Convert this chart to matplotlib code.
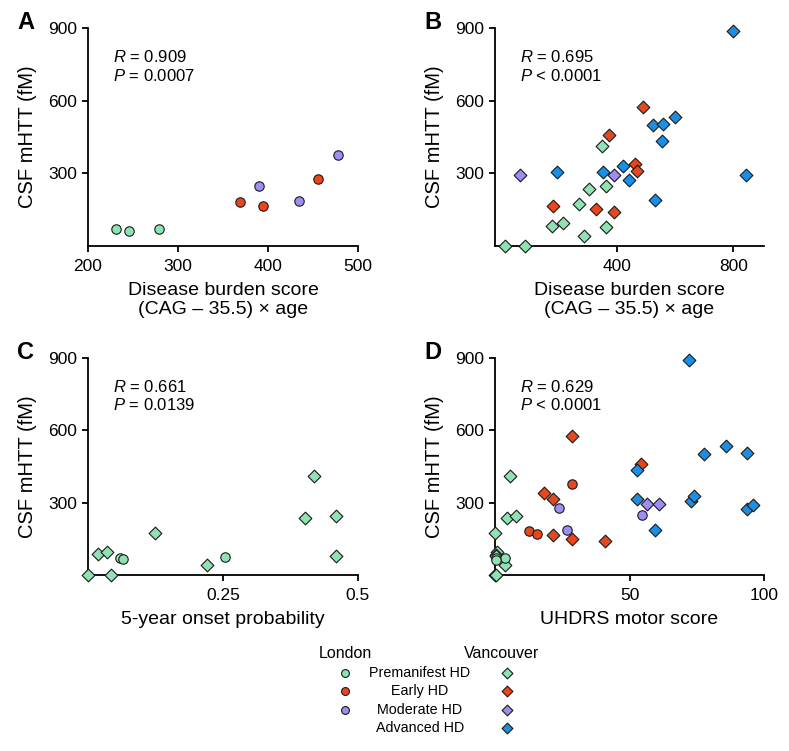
import matplotlib
matplotlib.use("Agg")
import matplotlib.pyplot as plt

plt.rcParams["font.family"] = ["Liberation Sans", "DejaVu Sans"]
plt.rcParams["mathtext.fontset"] = "custom"
plt.rcParams["mathtext.it"] = "Liberation Sans:italic"
plt.rcParams["mathtext.rm"] = "Liberation Sans"

COLORS = {
    "pre": "#8fe3b2",
    "early": "#e8461c",
    "mod": "#9d8ef0",
    "adv": "#1b8fe4",
}
STAGE_LABELS = ["Premanifest HD", "Early HD", "Moderate HD", "Advanced HD"]

# panel A: London, disease burden score
a_pre_x = [231.5, 246, 279]
a_pre_y = [69, 62, 72]
a_early_x = [369, 394, 455.5]
a_early_y = [181, 166, 276]
a_mod_x = [390, 434, 478]
a_mod_y = [246, 184, 377]

# panel B: Vancouver, disease burden score
b_pre_x = [17, 86, 179, 216, 288, 270, 304, 351, 362, 362]
b_pre_y = [0, 0, 84, 94, 40, 174, 235, 412, 246, 77]
b_early_x = [182, 328, 390, 375, 463, 470, 490]
b_early_y = [164, 151, 141, 460, 340, 311, 575]
b_mod_x = [67, 390]
b_mod_y = [293, 293]
b_adv_x = [194, 354, 423, 442, 523, 559, 599, 554, 531, 800, 842]
b_adv_y = [304, 304, 329, 272, 499, 503, 534, 435, 188, 886, 292]

# panel C: premanifest, 5-year onset probability
c_lon_x = [0.059, 0.065, 0.253]
c_lon_y = [72, 65, 74]
c_van_x = [0.0, 0.019, 0.035, 0.042, 0.124, 0.220, 0.402, 0.418, 0.459, 0.459]
c_van_y = [0, 89, 96, 0, 175, 40, 236, 412, 244, 79]

# panel D: UHDRS motor score
d_pre_lon_x = [0.2, 3.8, 0.5]
d_pre_lon_y = [70, 72, 62]
d_early_lon_x = [12.7, 15.6, 28.5]
d_early_lon_y = [181, 168, 379]
d_mod_lon_x = [23.7, 26.7, 54.8]
d_mod_lon_y = [278, 185, 249]
d_pre_van_x = [0, 0.9, 0.2, 3.8, 0, 0.4, 5.7, 4.5, 7.7, 0.5]
d_pre_van_y = [176, 96, 84, 42, 0, 0, 411, 236, 246, 77]
d_early_van_x = [18.2, 21.5, 21.5, 28.5, 28.5, 40.8, 54.1]
d_early_van_y = [340, 314, 165, 576, 151, 142, 462]
d_mod_van_x = [56.6, 60.9]
d_mod_van_y = [294, 294]
d_adv_van_x = [72, 52.7, 52.7, 59.6, 73, 73.8, 77.7, 86, 93.8, 93.8, 96]
d_adv_van_y = [890, 314, 435, 187, 306, 329, 500, 537, 507, 272, 292]

stats = {
    "A": ("0.909", "=", "0.0007"),
    "B": ("0.695", "<", "0.0001"),
    "C": ("0.661", "=", "0.0139"),
    "D": ("0.629", "<", "0.0001"),
}

W, H = 789, 751
fig = plt.figure(figsize=(W / 100, H / 100), dpi=100)


def px_axes(left, top, right, bottom):
    return fig.add_axes([left / W, 1 - bottom / H, (right - left) / W, (bottom - top) / H])


def circles(ax, x, y, stage):
    ax.scatter(x, y, s=46, marker="o", color=COLORS[stage], edgecolor="#1a1a1a",
               linewidth=0.8, clip_on=False, zorder=3)


def diamonds(ax, x, y, stage):
    ax.scatter(x, y, s=42, marker="D", color=COLORS[stage], edgecolor="#1a1a1a",
               linewidth=0.8, clip_on=False, zorder=3)


def style(ax, letter, xlim, xticks, xticklabels, xlabel):
    ax.set_xlim(*xlim)
    ax.set_ylim(0, 900)
    ax.set_xticks(xticks)
    ax.set_xticklabels(xticklabels)
    ax.set_yticks([300, 600, 900])
    for s in ["top", "right"]:
        ax.spines[s].set_visible(False)
    for s in ["left", "bottom"]:
        ax.spines[s].set_linewidth(1.3)
    ax.tick_params(length=4.5, width=1.3, labelsize=12.5, pad=3.5)
    ax.tick_params(axis="x", pad=4.5)
    ax.set_ylabel("CSF mHTT (fM)", fontsize=14.5, labelpad=8)
    ax.set_xlabel(xlabel, fontsize=14, labelpad=6, linespacing=1.2)
    r, op, p = stats[letter]
    ax.text(0.093, 0.867, f"$R$ = {r}", transform=ax.transAxes, fontsize=12, va="center")
    ax.text(0.093, 0.782, f"$P$ {op} {p}", transform=ax.transAxes, fontsize=12, va="center")
    ax.text(-0.263, 1.025, letter, transform=ax.transAxes, fontsize=17, fontweight="bold",
            va="center", ha="left")


burden_label = "Disease burden score\n(CAG – 35.5) × age"

ax = px_axes(88, 28, 358, 246)
circles(ax, a_pre_x, a_pre_y, "pre")
circles(ax, a_early_x, a_early_y, "early")
circles(ax, a_mod_x, a_mod_y, "mod")
style(ax, "A", (200, 500), [200, 300, 400, 500], ["200", "300", "400", "500"], burden_label)

ax = px_axes(495, 28, 764, 246)
diamonds(ax, b_pre_x, b_pre_y, "pre")
diamonds(ax, b_early_x, b_early_y, "early")
diamonds(ax, b_mod_x, b_mod_y, "mod")
diamonds(ax, b_adv_x, b_adv_y, "adv")
style(ax, "B", (-17, 905), [400, 800], ["400", "800"], burden_label)

ax = px_axes(88, 358, 358, 575)
diamonds(ax, c_van_x, c_van_y, "pre")
circles(ax, c_lon_x, c_lon_y, "pre")
style(ax, "C", (0, 0.5), [0.25, 0.5], ["0.25", "0.5"], "5-year onset probability")

ax = px_axes(495, 358, 764, 575)
diamonds(ax, d_pre_van_x, d_pre_van_y, "pre")
diamonds(ax, d_early_van_x, d_early_van_y, "early")
diamonds(ax, d_mod_van_x, d_mod_van_y, "mod")
diamonds(ax, d_adv_van_x, d_adv_van_y, "adv")
circles(ax, d_pre_lon_x, d_pre_lon_y, "pre")
circles(ax, d_early_lon_x, d_early_lon_y, "early")
circles(ax, d_mod_lon_x, d_mod_lon_y, "mod")
style(ax, "D", (0, 100), [50, 100], ["50", "100"], "UHDRS motor score")

# legend drawn in pixel space
lg = fig.add_axes([0, 0, 1, 1])
lg.set_xlim(0, W)
lg.set_ylim(H, 0)
lg.axis("off")
lg.text(345, 654, "London", fontsize=11.5, ha="center", va="center")
lg.text(502, 654, "Vancouver", fontsize=11.5, ha="center", va="center")
row_y = [673, 691, 710, 728]
stages = ["pre", "early", "mod", "adv"]
for i, (stage, label) in enumerate(zip(stages, STAGE_LABELS)):
    lg.text(420, row_y[i], label, fontsize=10.3, ha="center", va="center")
    if stage != "adv":
        lg.scatter([345], [row_y[i]], s=32, marker="o", color=COLORS[stage],
                   edgecolor="#1a1a1a", linewidth=0.8)
    lg.scatter([507], [row_y[i]], s=30, marker="D", color=COLORS[stage],
               edgecolor="#1a1a1a", linewidth=0.8)

fig.savefig("out.png", dpi=100)
